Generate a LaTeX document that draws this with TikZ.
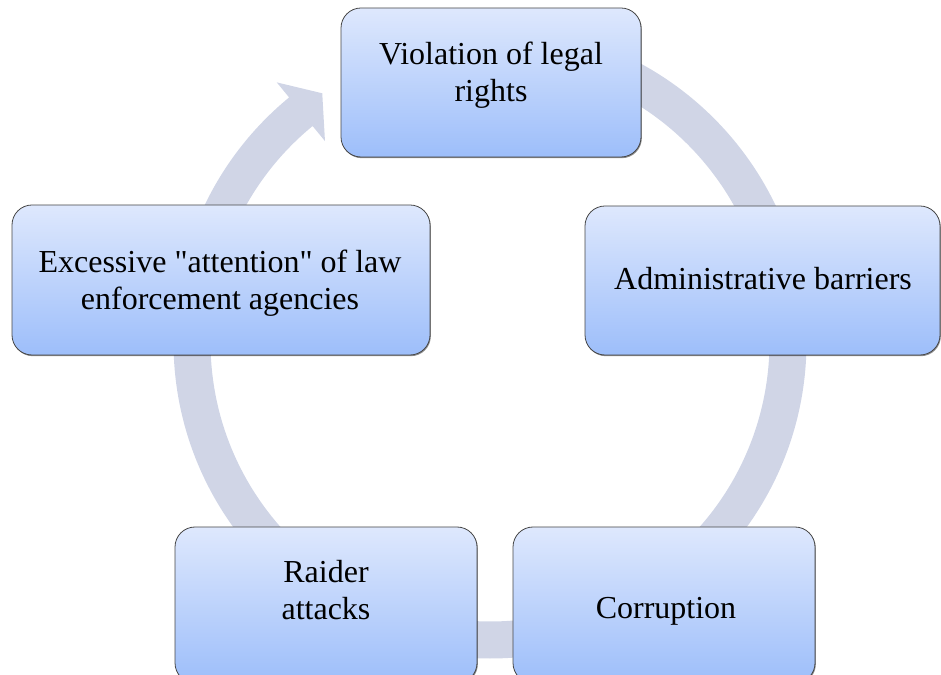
\documentclass[tikz,border=0pt]{standalone}
\usepackage{fontspec}
\setmainfont{Liberation Serif}
\newfontfamily\plainserif{Liberation Serif}
\usetikzlibrary{shadows}
\definecolor{ringcol}{RGB}{208,213,230}
\definecolor{boxtop}{RGB}{222,232,253}
\definecolor{boxbot}{RGB}{157,190,250}
\definecolor{boxline}{RGB}{70,70,70}
\tikzset{
  cyclebox/.style={rectangle, rounded corners=20pt, draw=boxline, line width=0.8pt,
    top color=boxtop, bottom color=boxbot, shading angle=0,
    drop shadow={shadow xshift=0.8pt, shadow yshift=-1.2pt, opacity=0.45, fill=black},
    inner sep=0pt},
  boxtext/.style={align=center, inner sep=0pt, font=\plainserif\fontsize{32}{37}\selectfont, text=black}
}
\begin{document}
\begin{tikzpicture}[x=1pt,y=1pt]
\useasboundingbox (0,0) rectangle (941,674);
\clip (0,0) rectangle (941,674);
% circular arrow
\coordinate (cc) at (490,332);
\fill[ringcol] ([shift={(cc)}]90:316.5) arc[start angle=90, end angle=-230.6, radius=316.5]
  -- ([shift={(cc)}]129.4:336) -- ([shift={(cc)}]124:300) -- ([shift={(cc)}]129.4:260)
  -- ([shift={(cc)}]129.4:279.5) arc[start angle=-230.6, end angle=90, radius=279.5] -- cycle;
% boxes
\node[cyclebox, minimum width=300pt, minimum height=149pt] (top) at (491,591.5) {};
\node[cyclebox, minimum width=355pt, minimum height=149pt] (right) at (762.5,393.5) {};
\node[cyclebox, minimum width=418pt, minimum height=150pt] (left) at (221,394) {};
\node[cyclebox, minimum width=302pt, minimum height=156pt] (raider) at (326,69) {};
\node[cyclebox, minimum width=302pt, minimum height=156pt] (corr) at (664,69) {};
% texts
\node[boxtext] (toptext) at (491,599) {Violation of legal\\rights};
\node[boxtext] (righttext) at (763,395) {Administrative barriers};
\node[boxtext] (lefttext) at (220,390.5) {Excessive "attention" of law\\enforcement agencies};
\node[boxtext] (raidertext) at (326,83.5) {Raider\\attacks};
\node[boxtext] (corrtext) at (666,63) {Corruption};
\end{tikzpicture}
\end{document}
